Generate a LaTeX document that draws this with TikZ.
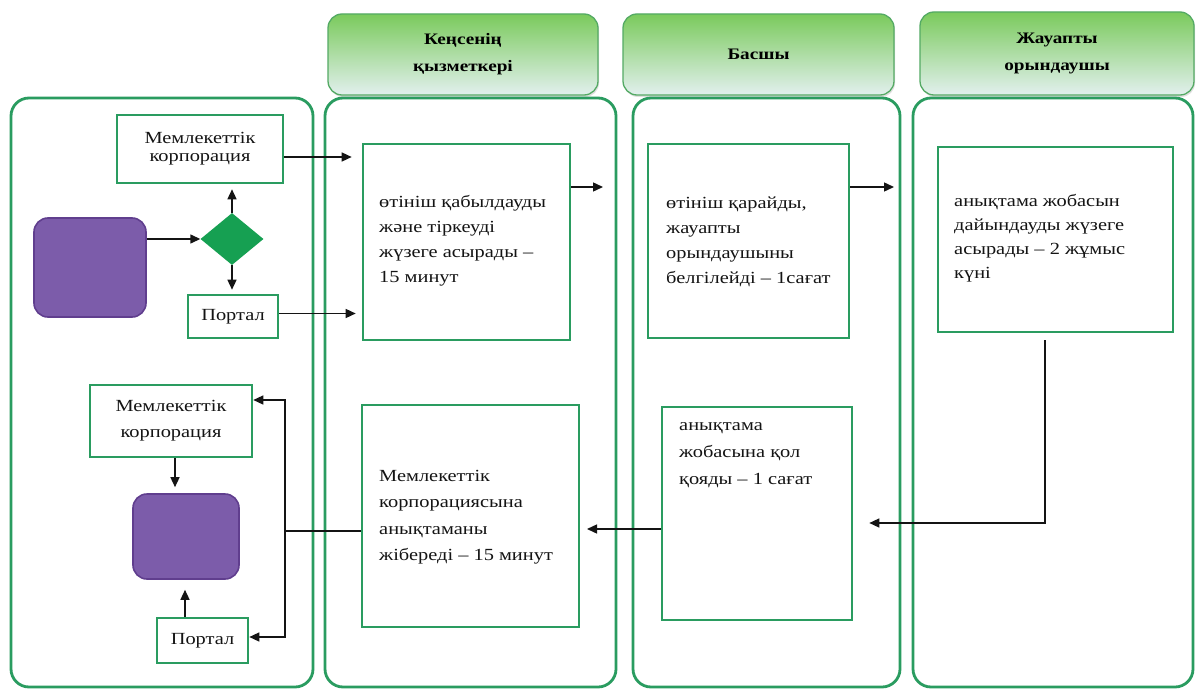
\documentclass[tikz,border=0pt]{standalone}
\usepackage{fontspec}
\setmainfont{Liberation Serif}
\newfontfamily\bodyfont[FakeStretch=1.2]{Liberation Serif}
\usetikzlibrary{arrows.meta,shapes.geometric,calc,shadows}
\definecolor{lg}{RGB}{42,156,96}
\definecolor{hdrtop}{RGB}{122,202,92}
\definecolor{hdrbot}{RGB}{226,240,238}
\definecolor{hdrline}{RGB}{84,170,100}
\definecolor{pfill}{RGB}{124,92,170}
\definecolor{pline}{RGB}{96,62,142}
\definecolor{dfill}{RGB}{22,160,82}
\definecolor{ink}{RGB}{20,20,20}
\tikzset{
  lane/.style={draw=lg, line width=2.8pt, rounded corners=18pt, rectangle},
  hdr/.style={draw=hdrline, line width=1.3pt, rounded corners=14pt, rectangle,
    top color=hdrtop, bottom color=hdrbot, align=center,
    font=\bodyfont\bfseries\fontsize{16}{27}\selectfont,
    drop shadow={opacity=0.25, shadow xshift=1pt, shadow yshift=-2pt}},
  box/.style={draw=lg, line width=2.6pt, rectangle, fill=white, inner sep=0pt},
  ptext/.style={font=\bodyfont\fontsize{17}{25}\selectfont, align=left, inner sep=0pt, text=ink},
  stext/.style={font=\bodyfont\fontsize{17}{18}\selectfont, align=center, text=ink},
  purp/.style={draw=pline, line width=1.6pt, fill=pfill, rounded corners=14pt, rectangle},
  dia/.style={diamond, fill=dfill, draw=none, inner sep=0pt},
  arr/.style={draw=ink, line width=1.4pt, -{Triangle[length=10pt,width=9pt]}},
  ln/.style={draw=ink, line width=1.4pt}
}
\begin{document}
\begin{tikzpicture}[x=1pt,y=-1pt]
\useasboundingbox[fill=white] (0,0) rectangle (1196,690);

% headers
\node[hdr, minimum width=270pt, minimum height=81pt] (h1) at (463,54.5) {Кеңсенің\\қызметкері};
\node[hdr, minimum width=271pt, minimum height=81pt] (h2) at (758.5,54.5) {Басшы};
\node[hdr, minimum width=274pt, minimum height=83pt] (h3) at (1057,53.5) {Жауапты\\орындаушы};

% lanes
\node[lane, minimum width=302pt, minimum height=589pt] (L0) at (162,392.5) {};
\node[lane, minimum width=291pt, minimum height=589pt] (L1) at (470.5,392.5) {};
\node[lane, minimum width=267pt, minimum height=589pt] (L2) at (766.5,392.5) {};
\node[lane, minimum width=280pt, minimum height=589pt] (L3) at (1053,392.5) {};

% left lane
\node[box, stext, minimum width=166pt, minimum height=68pt] (mk1) at (200,149) {Мемлекеттік\\корпорация};
\node[purp, minimum width=112pt, minimum height=99pt] (p1) at (90,267.5) {};
\node[dia, minimum width=63pt, minimum height=52pt] (d) at (232,239) {};
\node[box, stext, minimum width=90pt, minimum height=43pt] (pt1) at (233,316.5) {Портал};

\node[box, stext, font=\bodyfont\fontsize{17}{26}\selectfont, minimum width=162pt, minimum height=72pt] (mk2) at (171,421) {Мемлекеттік\\корпорация};
\node[purp, minimum width=106pt, minimum height=85pt] (p2) at (186,536.5) {};
\node[box, stext, minimum width=91pt, minimum height=45pt] (pt2) at (202.5,640.5) {Портал};

% process boxes
\node[box, minimum width=207pt, minimum height=196pt] (b1) at (466.5,242) {};
\node[ptext, anchor=west] (t1) at (379,241) {өтініш қабылдауды\\және тіркеуді\\жүзеге асырады –\\15 минут};

\node[box, minimum width=201pt, minimum height=194pt] (b2) at (748.5,241) {};
\node[ptext, anchor=west] (t2) at (666,242) {өтініш қарайды,\\жауапты\\орындаушыны\\белгілейді – 1сағат};

\node[box, minimum width=235pt, minimum height=185pt] (b3) at (1055.5,239.5) {};
\node[ptext, font=\bodyfont\fontsize{17}{24}\selectfont, anchor=west] (t3) at (954,238) {анықтама жобасын\\дайындауды жүзеге\\асырады – 2 жұмыс\\күні};

\node[box, minimum width=217pt, minimum height=222pt] (b4) at (470.5,516) {};
\node[ptext, font=\bodyfont\fontsize{17}{26.5}\selectfont, anchor=west] (t4) at (379,517) {Мемлекеттік\\корпорациясына\\анықтаманы\\жібереді – 15 минут};

\node[box, minimum width=190pt, minimum height=213pt] (b5) at (757,513.5) {};
\node[ptext, font=\bodyfont\fontsize{17}{27}\selectfont, anchor=north west] (t5) at (679,422) {анықтама\\жобасына қол\\қояды – 1 сағат};

% free-end coordinates
\coordinate (c1) at (603,187);
\coordinate (c2) at (894,187);
\coordinate (c3) at (1045,523);
\coordinate (r4) at (587,529);
\coordinate (j) at (285,531);
\coordinate (jt) at (285,400);
\coordinate (jb) at (285,637);
\coordinate (xa) at (175,0);
\coordinate (xb) at (185,0);

% connectors, left lane
\draw[arr] (p1.east |- d.west) -- (d.west);
\draw[arr, shorten >=5pt] (d.north) -- (d.north |- mk1.south);
\draw[arr, shorten >=4pt] (d.south) -- (d.south |- pt1.north);
\draw[arr, shorten >=10pt] ([yshift=-8pt]mk1.east) -- ([yshift=-8pt]mk1.east -| b1.west);
\draw[arr, shorten >=6pt] ([yshift=3pt]pt1.east) -- ([yshift=3pt]pt1.east -| b1.west);

\draw[arr, shorten >=6pt] (mk2.south -| xa) -- (p2.north -| xa);
\draw[arr, shorten >=10pt] (pt2.north -| xb) -- (p2.south -| xb);

% process connectors
\draw[arr] (b1.east |- c1) -- (c1);
\draw[arr] (b2.east |- c2) -- (c2);
\draw[arr, shorten <=7pt] (b3.south -| c3) -- (c3) -- ([xshift=16pt]c3 -| b5.east);
\draw[arr] (b5.west |- r4) -- (r4);
\draw[ln] (b4.west |- j) -- (j);
\draw[arr] (j) -- (jt) -- (jt -| mk2.east);
\draw[arr] (j) -- (jb) -- (jb -| pt2.east);
\end{tikzpicture}
\end{document}
